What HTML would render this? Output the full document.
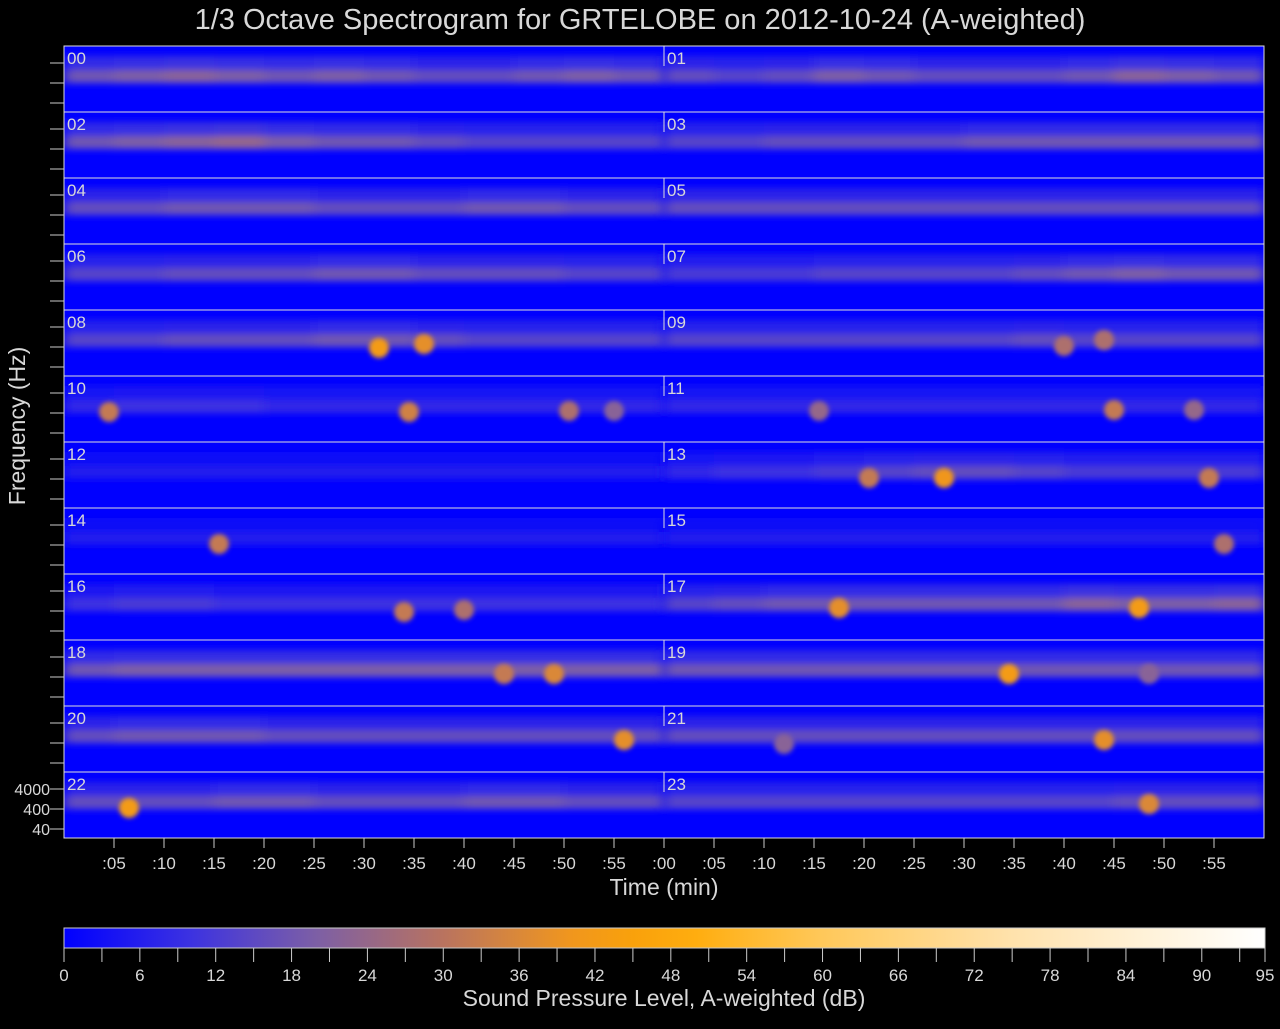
<!DOCTYPE html>
<html><head><meta charset="utf-8"><style>
body{margin:0;background:#000;width:1280px;height:1024px;overflow:hidden;font-family:"Liberation Sans",sans-serif}
svg text{font-family:"Liberation Sans",sans-serif;fill:#d8d8d8}
</style></head><body>
<svg id="chart" width="1280" height="1024" xmlns="http://www.w3.org/2000/svg">
<defs>
<filter id="blr" x="-5%" y="-50%" width="110%" height="200%"><feGaussianBlur stdDeviation="6 3.5"/></filter>
<filter id="blr2" x="-50%" y="-50%" width="200%" height="200%"><feGaussianBlur stdDeviation="2.5"/></filter>
<clipPath id="pclip"><rect x="64" y="46" width="1200" height="792"/></clipPath>
<linearGradient id="cbar" x1="0" x2="1" y1="0" y2="0"></linearGradient>
</defs>
<text x="640" y="29" text-anchor="middle" font-size="29">1/3 Octave Spectrogram for GRTELOBE on 2012-10-24 (A-weighted)</text>
<text transform="translate(25,426) rotate(-90)" text-anchor="middle" font-size="23">Frequency (Hz)</text>
<text x="664" y="895" text-anchor="middle" font-size="23">Time (min)</text>
<text x="664" y="1006" text-anchor="middle" font-size="23">Sound Pressure Level, A-weighted (dB)</text>
<g id="panels" clip-path="url(#pclip)"></g>
<g id="axes"></g>
<rect x="64" y="928" width="1201" height="20" fill="url(#cbar)" stroke="#ccc" stroke-width="1"/>
<g id="cb"></g>
</svg>
<script>
// Band level (dB) per 5-minute segment for each hour
const hours=["00","01","02","03","04","05","06","07","08","09","10","11","12","13","14","15","16","17","18","19","20","21","22","23"];
const bandLevels=[
[18,20,22,20,18,20,18,16,16,18,20,18],
[16,14,16,20,18,16,16,16,18,22,20,18],
[18,20,22,24,20,18,18,16,14,14,14,14],
[14,14,16,16,16,16,18,18,18,18,18,18],
[16,16,18,18,18,16,16,16,18,18,16,16],
[16,16,16,16,16,16,16,16,16,16,16,16],
[14,14,16,16,16,18,18,16,16,16,14,14],
[12,12,12,14,14,14,14,16,18,20,18,18],
[14,14,16,16,16,18,18,16,14,14,14,14],
[14,14,14,14,14,14,14,16,14,14,14,14],
[8,10,10,10,8,8,8,8,8,8,8,8],
[8,8,8,8,8,8,8,8,8,8,8,8],
[6,6,6,6,6,6,6,6,6,6,6,6],
[8,10,10,12,14,16,16,14,12,12,12,12],
[6,6,6,6,6,6,6,6,6,6,6,6],
[6,6,6,6,6,6,6,6,6,6,6,6],
[10,12,12,10,10,10,10,10,10,10,10,10],
[14,16,18,18,18,18,18,18,22,20,20,22],
[18,20,20,20,20,20,20,20,20,20,20,20],
[18,18,18,18,18,18,18,18,18,18,18,18],
[16,18,18,18,16,16,16,16,16,16,16,16],
[16,16,16,16,16,16,16,16,16,16,16,16],
[16,16,16,18,18,16,16,16,18,18,16,16],
[14,14,14,14,14,14,14,14,14,16,16,16]];
// events: hour, minute, dB, offset below band (px)
const evHour=[8,8,9,9,10,10,10,10,11,11,11,13,13,13,14,15,16,16,17,17,18,18,19,19,20,21,21,22,23];
const evMin=[31.5,36,40,44,4.5,34.5,50.5,55,15.5,45,53,20.5,28,54.5,15.5,56,34,40,17.5,47.5,44,49,34.5,48.5,56,44,12,6.5,48.5];
const evDb=[42,38,28,28,32,34,28,22,24,32,24,32,40,32,32,28,32,28,38,42,32,36,42,22,38,38,22,42,36];
const evOff=[8,4,6,0,6,6,5,5,5,4,4,6,6,6,6,6,8,6,4,4,4,4,4,4,4,4,8,6,2];
const cbTicks=[0,6,12,18,24,30,36,42,48,54,60,66,72,78,84,90,95];
const xTickMins=[5,10,15,20,25,30,35,40,45,50,55];
const freqLabels=["4000","400","40"];

const stops=[[0,[0,0,255]],[10,[60,50,225]],[20,[125,95,165]],[30,[185,115,95]],[40,[240,150,30]],[48,[255,168,0]],[60,[255,200,90]],[75,[255,226,172]],[95,[255,255,255]]];
function cmap(v){v=Math.max(0,Math.min(95,v));for(let i=1;i<stops.length;i++){if(v<=stops[i][0]){const a=stops[i-1],b=stops[i],t=(v-a[0])/(b[0]-a[0]);return 'rgb('+a[1].map((c,k)=>Math.round(c+(b[1][k]-c)*t)).join(',')+')';}}return '#fff';}
const NS='http://www.w3.org/2000/svg';
function mk(tag,attrs,parent){const e=document.createElementNS(NS,tag);for(const k in attrs)e.setAttribute(k,attrs[k]);parent.appendChild(e);return e;}
const X0=64,PW=600,TOP=46,RH=66;
function xScale(half,m){return X0+half*PW+m*PW/60;}
function rowTop(r){return TOP+r*RH;}
const panels=document.getElementById('panels');
const grad=document.getElementById('cbar');
for(let v=0;v<=95;v+=5){mk('stop',{offset:(v/95*100)+'%','stop-color':cmap(v)},grad);}
mk('rect',{x:X0,y:TOP,width:2*PW,height:12*RH,fill:'#0000ff'},panels);
hours.forEach((h,i)=>{
  const r=Math.floor(i/2),half=i%2,top=rowTop(r);
  const g=mk('g',{filter:'url(#blr)'},panels);
  
  
  bandLevels[i].forEach((lv,s)=>{
    const x=xScale(half,s*5);
    const o=mk('rect',{x:x,y:top+10,width:PW/12+0.5,height:28,fill:cmap(lv*0.45)},g);
    
    
    const c=mk('rect',{x:x,y:top+24,width:PW/12+0.5,height:12,fill:cmap(lv)},g);
    
    
  });
});
const eg=mk('g',{filter:'url(#blr2)'},panels);
evHour.forEach((h,k)=>{
  const r=Math.floor(h/2),half=h%2;
  const e=mk('ellipse',{cx:xScale(half,evMin[k]),cy:rowTop(r)+30+evOff[k],rx:10,ry:10,fill:cmap(evDb[k])},eg);
  
  
});
const ax=document.getElementById('axes');
for(let r=0;r<12;r++){
  const top=rowTop(r);
  mk('rect',{x:X0,y:top,width:2*PW,height:RH,fill:'none',stroke:'#ddd','stroke-width':1},ax);
  mk('line',{x1:X0+PW,x2:X0+PW,y1:top,y2:top+20,stroke:'#ddd'},ax);
  for(let half=0;half<2;half++){
    const t=mk('text',{x:X0+half*PW+3,y:top+18,'font-size':17,fill:'#e0e0e0'},ax);
    t.textContent=hours[r*2+half];
    
    
  }
  [17,37,57].forEach((d,j)=>{
    mk('line',{x1:50,x2:64,y1:top+d,y2:top+d,stroke:'#ccc'},ax);
    if(r===11){const t=mk('text',{x:50,y:top+d+6,'font-size':16,'text-anchor':'end'},ax);t.textContent=freqLabels[j];
      
      }
  });
}
const bot=TOP+12*RH;
function xt(x,lab){mk('line',{x1:x,x2:x,y1:bot,y2:bot+10,stroke:'#ccc'},ax);const t=mk('text',{x:x,y:bot+31,'font-size':17,'text-anchor':'middle'},ax);t.textContent=lab;
  
  }
for(let half=0;half<2;half++){xTickMins.forEach(m=>xt(xScale(half,m),':'+String(m).padStart(2,'0')));}
xt(xScale(1,0),':00');
const cb=document.getElementById('cb');
for(let v=0;v<=95;v+=3){const x=64+v*1201/95;mk('line',{x1:x,x2:x,y1:948,y2:962,stroke:'#ccc'},cb);}
mk('line',{x1:1265,x2:1265,y1:948,y2:962,stroke:'#ccc'},cb);
cbTicks.forEach(v=>{const t=mk('text',{x:64+v*1201/95,y:981,'font-size':17,'text-anchor':'middle'},cb);t.textContent=v;
  
  });
</script>
</body></html>
